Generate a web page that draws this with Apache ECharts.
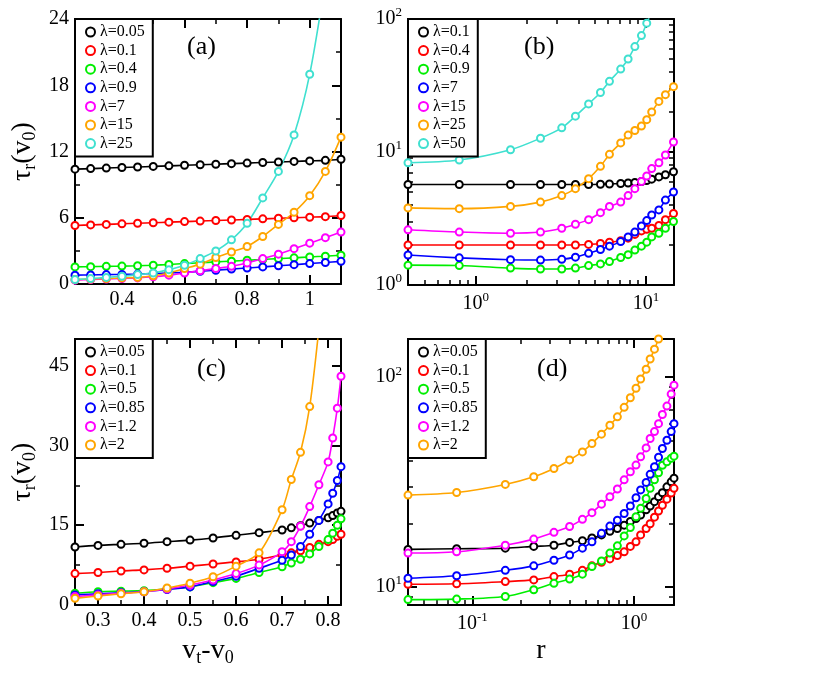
<!DOCTYPE html>
<html><head><meta charset="utf-8">
<script src="https://cdn.jsdelivr.net/npm/echarts@6/dist/echarts.min.js"></script>
<style>html,body{margin:0;padding:0;background:#fff}#c{width:824px;height:685px}</style>
</head><body><div id="c"></div>
<script>
// ---- Panel (a) ----
const aX = [0.25,0.3,0.35,0.4,0.45,0.5,0.55,0.6,0.65,0.7,0.75,0.8,0.85,0.9,0.95,1.0,1.05,1.1];
const aNames = ['λ=0.05','λ=0.1','λ=0.4','λ=0.9','λ=7','λ=15','λ=25'];
const aBlack = [10.4,10.45,10.5,10.55,10.6,10.65,10.7,10.75,10.8,10.85,10.9,10.95,11.0,11.05,11.1,11.15,11.2,11.3];
const aRed = [5.3,5.35,5.4,5.45,5.5,5.55,5.6,5.65,5.7,5.75,5.8,5.85,5.9,5.95,6.0,6.05,6.1,6.2];
const aGreen = [1.55,1.57,1.6,1.62,1.65,1.7,1.77,1.85,1.92,2.0,2.07,2.15,2.22,2.3,2.37,2.45,2.52,2.6];
const aBlue = [0.8,0.82,0.85,0.87,0.9,0.95,1.0,1.05,1.15,1.25,1.35,1.45,1.55,1.65,1.75,1.85,1.95,2.05];
const aMagenta = [0.35,0.4,0.45,0.5,0.55,0.65,0.8,1.0,1.2,1.4,1.6,1.9,2.3,2.7,3.2,3.7,4.2,4.7];
const aOrange = [0.4,0.45,0.5,0.55,0.6,0.75,1.0,1.4,1.8,2.4,2.9,3.4,4.3,5.4,6.5,8.0,10.2,13.3];
const aCyan = [0.4,0.5,0.6,0.7,0.85,1.0,1.3,1.7,2.3,3.0,4.0,5.5,7.8,10.2,13.5,19,27.5,null];
const aXLabels = [0.4,0.6,0.8,1.0];
const aYLabels = [0,6,12,18,24];
// ---- Panel (b) ----
const bX = [0.4,0.8,1.6,2.4,3.2,3.85,4.6,5.4,6.1,7.1,7.85,8.6,9.4,10.1,10.8,11.9,13,14.5];
const bNames = ['λ=0.1','λ=0.4','λ=0.9','λ=7','λ=15','λ=25','λ=50'];
const bBlack = [5.7,5.7,5.7,5.7,5.7,5.7,5.7,5.72,5.75,5.8,5.85,5.9,6.0,6.1,6.25,6.5,6.75,7.1];
const bRed = [2.0,2.0,2.0,2.0,2.0,2.0,2.02,2.05,2.1,2.15,2.25,2.4,2.55,2.62,2.67,2.8,3.1,3.45];
const bGreen = [1.41,1.40,1.34,1.32,1.32,1.34,1.40,1.44,1.5,1.61,1.69,1.83,1.96,2.1,2.3,2.45,2.67,3.0];
const bBlue = [1.68,1.6,1.55,1.54,1.56,1.62,1.73,1.85,1.96,2.12,2.3,2.5,2.78,3.05,3.36,3.67,4.35,5.0];
const bMagenta = [2.6,2.5,2.45,2.5,2.67,2.86,3.1,3.5,3.9,4.2,4.7,5.3,6.0,6.6,7.5,8.3,9.5,11.9];
const bOrange = [3.8,3.75,3.9,4.2,4.7,5.3,6.3,7.8,9.6,11.7,13.4,14.5,15.7,17.5,20,24,27,31];
const bCyan = [8.3,8.7,10.4,12.7,15.2,18.6,23,28,34,42,50,62,75,93,115,null,null,null];
const bXLabels = [1,10];
const bYLabels = [1,10,100];
// ---- Panel (c) ----
const cX = [0.25,0.3,0.35,0.4,0.45,0.5,0.55,0.6,0.65,0.7,0.72,0.74,0.76,0.78,0.8,0.81,0.82,0.828];
const cNames = ['λ=0.05','λ=0.1','λ=0.5','λ=0.85','λ=1.2','λ=2'];
const cBlack = [10.9,11.2,11.4,11.6,11.9,12.2,12.6,13.1,13.6,14.1,14.5,14.9,15.4,15.9,16.4,16.8,17.3,17.6];
const cRed = [5.9,6.1,6.4,6.6,6.9,7.3,7.7,8.1,8.6,9.4,9.8,10.2,10.8,11.4,11.9,12.3,12.9,13.3];
const cGreen = [2.2,2.5,2.6,2.7,3.0,3.4,4.2,5.0,6.1,7.2,7.9,8.6,9.6,11.0,12.3,13.5,15.0,16.2];
const cBlue = [1.9,2.1,2.3,2.5,2.9,3.4,4.4,5.4,6.9,8.4,9.4,11.0,13.3,15.9,19.0,21.0,23.4,26];
const cMagenta = [1.6,1.9,2.2,2.5,3.0,3.75,4.7,5.9,7.5,10,11.9,14.8,18.5,22.6,26.9,31.4,37,43];
const cOrange = [1.25,1.7,2.1,2.5,3.2,4.1,5.3,7.3,9.8,17.9,23.6,28.7,37.3,52,null,null,null,null];
const cXLabels = [0.3,0.4,0.5,0.6,0.7,0.8];
const cYLabels = [0,15,30,45];
// ---- Panel (d) ----
const dX = [0.04,0.08,0.16,0.24,0.32,0.40,0.48,0.55,0.63,0.71,0.79,0.87,0.95,1.03,1.10,1.19,1.26,1.34,1.42,1.5,1.6,1.7,1.77];
const dNames = ['λ=0.05','λ=0.1','λ=0.5','λ=0.85','λ=1.2','λ=2'];
const dBlack = [15.1,15.2,15.3,15.6,15.8,16.3,16.6,17.1,17.7,18.4,19,19.7,20.5,21.2,22,23.3,24.3,25.5,26.9,28.1,30,31.7,33];
const dRed = [10.3,10.35,10.6,10.8,11.2,11.5,12,12.6,13.1,13.6,14.1,14.7,15.6,16.4,17.7,19,20,21.5,23,24.5,26.2,28,29.5];
const dGreen = [8.7,8.75,9.0,9.7,10.4,10.9,11.5,12.5,13.3,14.5,15.7,17.5,19.2,21.6,23.7,26.4,29.5,32.4,35,38,39.5,41,42];
const dBlue = [11.0,11.3,12,12.6,13.4,14.2,15.3,16.4,18,19.5,20.8,22.4,24.3,26.6,29,31.5,34.4,37.4,41.5,45.7,50,55,60];
const dMagenta = [14.5,14.7,15.8,16.9,18.2,19.4,21,22.6,24.8,26.9,29.3,32.4,35.4,38.1,41.7,46,51,55,60,66.4,72.8,83,91.6];
const dOrange = [27.4,28.2,30.8,33.5,36.7,40.3,44,48.3,53.5,59,64.7,71.8,79.8,88.5,98,109,122,136,152,170,195,220,240];
const dXLabels = [0.1,1];
const dYLabels = [10,100];

const COLORS = ['#000000','#ff0000','#00ee00','#0000ff','#ff00ff','#ffa500','#40e0d0'];
const FONT = 'Liberation Serif';

const panels = [
  {x:aX, names:aNames, ys:[aBlack,aRed,aGreen,aBlue,aMagenta,aOrange,aCyan]},
  {x:bX, names:bNames, ys:[bBlack,bRed,bGreen,bBlue,bMagenta,bOrange,bCyan]},
  {x:cX, names:cNames, ys:[cBlack,cRed,cGreen,cBlue,cMagenta,cOrange]},
  {x:dX, names:dNames, ys:[dBlack,dRed,dGreen,dBlue,dMagenta,dOrange]}
];
const grids = [
  {left:75, top:19, width:266, height:265},
  {left:408, top:19, width:266, height:266},
  {left:75, top:339, width:266, height:266},
  {left:408, top:339, width:266, height:266}
];
// minor tick positions (between labelled ticks)
const range = (a,b,s)=>{const r=[];for(let v=a;v<=b+1e-9;v+=s)r.push(+v.toFixed(6));return r;};
const logMinors = (lo,hi)=>{const r=[];for(let e=-2;e<=2;e++)for(let m=2;m<=9;m++){const v=+(m*Math.pow(10,e)).toPrecision(6);if(v>=lo&&v<=hi)r.push(v);}return r;};
const logFmt = v => { const r = Math.round(Math.log10(v)); return '{b|10}{e|' + r + '}'; };
const labelRich = {b:{fontFamily:FONT,fontSize:20,color:'#000'}, e:{fontFamily:FONT,fontSize:13,color:'#000',padding:[0,0,12,0]}};
const axisCfg = [
  {x:{type:'value',min:0.25,max:1.1,major:aXLabels,minor:[0.3,0.5,0.7,0.9,1.1],fmt:v=>String(+v.toFixed(1))},
   y:{type:'value',min:0,max:24,major:aYLabels,minor:[3,9,15,21]}},
  {x:{type:'log',min:0.4,max:14.6,major:bXLabels,minor:logMinors(0.4,14.6)},
   y:{type:'log',min:1,max:100,major:bYLabels,minor:logMinors(1,100)}},
  {x:{type:'value',min:0.25,max:0.828,major:cXLabels,minor:range(0.25,0.75,0.1),fmt:v=>String(+v.toFixed(1))},
   y:{type:'value',min:0,max:50,major:cYLabels,minor:[7.5,22.5,37.5]}},
  {x:{type:'log',min:0.04,max:1.77,major:dXLabels,minor:logMinors(0.04,1.77)},
   y:{type:'log',min:8.2,max:152,major:dYLabels,minor:logMinors(8.2,152)}}
];
function mkAxis(c, gi, pos, showLabel, minor) {
  const a = {type:c.type, gridIndex:gi, position:pos, min:c.min, max:c.max,
    axisLine:{show:!minor,onZero:false,lineStyle:{color:'#000',width:2}},
    axisTick:{show:true,inside:true,length:minor?5:9,customValues:minor?c.minor:c.major,lineStyle:{color:'#000',width:minor?1.5:2}},
    splitLine:{show:false},
    axisLabel:{show:showLabel && !minor, customValues:c.major, color:'#000', fontFamily:FONT, fontSize:20, margin:6}};
  if (c.type==='log') { a.logBase = 10; a.axisLabel.formatter = logFmt; a.axisLabel.rich = labelRich; }
  else if (c.fmt) a.axisLabel.formatter = c.fmt;
  return a;
}
const xAxis = [], yAxis = [];
axisCfg.forEach((c,i)=>{ xAxis.push(mkAxis(c.x,i,'bottom',true,false)); yAxis.push(mkAxis(c.y,i,'left',true,false)); });
axisCfg.forEach((c,i)=>{
  xAxis.push(mkAxis(c.x,i,'top',false,false)); yAxis.push(mkAxis(c.y,i,'right',false,false));
  xAxis.push(mkAxis(c.x,i,'bottom',false,true)); yAxis.push(mkAxis(c.y,i,'left',false,true));
  xAxis.push(mkAxis(c.x,i,'top',false,true)); yAxis.push(mkAxis(c.y,i,'right',false,true));
});
const yName = '{t|τ}{s|r}{t|(v}{s|0}{t|)}';
const nameRich = {t:{fontFamily:FONT,fontSize:28,color:'#000'}, s:{fontFamily:FONT,fontSize:18,color:'#000',padding:[14,0,0,0]}};
[0,2].forEach(i=>{ Object.assign(yAxis[i],{name:yName,nameLocation:'middle',nameRotate:90,nameGap:36,nameTextStyle:{rich:nameRich}}); });
Object.assign(xAxis[2],{name:'{t|v}{s|t}{t|-v}{s|0}',nameLocation:'middle',nameGap:30,nameTextStyle:{rich:nameRich}});
Object.assign(xAxis[3],{name:'r',nameLocation:'middle',nameGap:32,nameTextStyle:{fontFamily:FONT,fontSize:28,color:'#000'}});

const series = [], legends = [];
const suffix = i => '\u200b'.repeat(i);
panels.forEach((p,pi)=>{
  const names = [];
  p.ys.forEach((ys,si)=>{
    const nm = p.names[si] + suffix(pi);
    names.push(nm);
    const col = COLORS[si];
    series.push({type:'line', name:nm, xAxisIndex:pi, yAxisIndex:pi,
      data: p.x.map((x,k)=>[x, ys[k]]), smooth:0.3, clip:true,
      symbol:'emptyCircle', symbolSize:7, showAllSymbol:true,
      lineStyle:{color:col,width:1.6}, itemStyle:{color:col,borderColor:col,borderWidth:1.6},
      emphasis:{disabled:true}, animation:false});
  });
  const g = grids[pi];
  legends.push({data:names, orient:'vertical', left:g.left, top:g.top, icon:'emptyCircle',
    itemWidth:9, itemHeight:9, itemGap:2.6, padding:[5,8,5,10], backgroundColor:'#fff',
    borderColor:'#000', borderWidth:2, selectedMode:false,
    textStyle:{fontFamily:FONT,fontSize:16,color:'#000',lineHeight:15}});
});
const tags = ['(a)','(b)','(c)','(d)'];
const tagPos = [[203,48],[540,48],[213,370],[553,370]];
const graphic = tags.map((t,i)=>({type:'text', left:tagPos[i][0]-16, top:tagPos[i][1]-14,
  style:{text:t, font:'26px "Liberation Serif"', fill:'#000'}, z:100}));

const chart = echarts.init(document.getElementById('c'), null, {renderer:'canvas'});
chart.setOption({backgroundColor:'#fff', animation:false, grid:grids.map(g=>Object.assign({containLabel:false},g)),
  xAxis, yAxis, series, legend:legends, graphic});
</script></body></html>
